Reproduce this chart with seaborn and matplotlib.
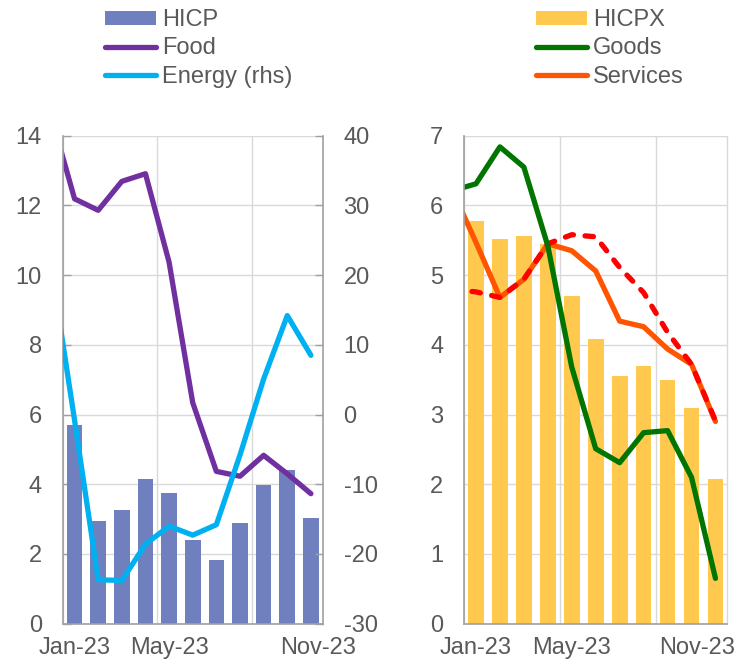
import numpy as np
import pandas as pd
import matplotlib
matplotlib.use("Agg")
import matplotlib.pyplot as plt
import seaborn as sns
from matplotlib.patches import Patch
from matplotlib.lines import Line2D

# Monthly observations (bars: Jan-Nov 2023, lines also carry Dec-2022)
months = ["Jan-23", "Feb-23", "Mar-23", "Apr-23", "May-23", "Jun-23",
          "Jul-23", "Aug-23", "Sep-23", "Oct-23", "Nov-23"]
line_months = ["Dec-22"] + months

hicp = [5.69, 2.96, 3.27, 4.16, 3.74, 2.40, 1.82, 2.90, 3.97, 4.40, 3.02]
food = [14.6, 12.19, 11.86, 12.69, 12.91, 10.37, 6.34, 4.37, 4.23, 4.83, 4.30, 3.73]
energy = [21.5, -0.8, -23.7, -23.8, -18.6, -16.0, -17.3, -15.8, -5.8, 5.1, 14.2, 8.5]

hicpx = [5.77, 5.52, 5.56, 5.44, 4.70, 4.09, 3.55, 3.69, 3.50, 3.10, 2.07]
goods = [6.21, 6.31, 6.84, 6.55, 5.42, 3.68, 2.51, 2.31, 2.74, 2.77, 2.10, 0.65]
services = [6.23, 5.47, 4.68, 4.94, 5.45, 5.35, 5.06, 4.34, 4.26, 3.94, 3.72, 2.90]
services_alt = [4.79, 4.76, 4.68, 4.94, 5.45, 5.58, 5.55, 5.11, 4.75, 4.18, 3.72, 2.91]

left_ticks = [0, 2, 4, 6, 8, 10, 12, 14]
rhs_ticks = [-30, -20, -10, 0, 10, 20, 30, 40]
right_ticks = [0, 1, 2, 3, 4, 5, 6, 7]
date_labels = ["Jan-23", "May-23", "Nov-23"]

C_HICP = "#7080BF"
C_FOOD = "#7030A0"
C_ENERGY = "#00B0F0"
C_HICPX = "#FFC94F"
C_GOODS = "#007500"
C_SERV = "#FF5500"
C_SERV_ALT = "#FF0000"
C_TEXT = "#595959"
C_SPINE = "#A0A0A0"
C_GRID = "#D9D9D9"

sns.set_theme(style="white")
plt.rcParams["font.family"] = ["Liberation Sans", "DejaVu Sans"]
plt.rcParams["axes.unicode_minus"] = False
FS = 17
LW = 3.8

line_df = pd.DataFrame({
    "pos": np.arange(-1, len(months)),
    "month": line_months,
    "Food": food,
    "Energy": energy,
    "Goods": goods,
    "Services": services,
    "ServicesAlt": services_alt,
})
bar_df = pd.DataFrame({"month": months, "HICP": hicp, "HICPX": hicpx})

fig = plt.figure(figsize=(7.38, 6.63), dpi=100)
axl = fig.add_axes([0.0850, 0.0593, 0.3523, 0.7360])
axr = fig.add_axes([0.6287, 0.0593, 0.3570, 0.7360])

line_kw = dict(solid_capstyle="round", solid_joinstyle="round", legend=False)


def style_axis(ax, ylim, yticks, label_pos):
    ax.set_axisbelow(True)
    ax.set_xlim(-0.5, len(months) - 0.5)
    ax.set_ylim(*ylim)
    ax.set_yticks(yticks)
    ax.set_xticks([-0.5, 3.5, 7.5])
    ax.set_xticklabels([])
    ax.set_xticks(label_pos, minor=True)
    ax.set_xticklabels(date_labels, minor=True)
    ax.tick_params(axis="x", which="major", direction="out", length=6,
                   width=1, color=C_SPINE)
    ax.tick_params(axis="x", which="minor", length=0, pad=9.5,
                   labelsize=FS, labelcolor=C_TEXT)
    ax.tick_params(axis="y", direction="in", length=6, width=1,
                   color=C_SPINE, pad=15, labelsize=FS, labelcolor=C_TEXT)
    ax.grid(True, axis="y", color=C_GRID, lw=1)
    ax.grid(True, axis="x", which="major", color=C_GRID, lw=1)
    ax.set_xlabel("")
    ax.set_ylabel("")
    for side in ("left", "bottom"):
        ax.spines[side].set_color(C_SPINE)
        ax.spines[side].set_linewidth(1.2)
    ax.spines["top"].set_visible(False)


# ---- left panel: HICP bars, food line, energy on the right-hand scale
sns.barplot(data=bar_df, x="month", y="HICP", ax=axl, color=C_HICP,
            saturation=1, width=0.66, linewidth=0)
sns.lineplot(data=line_df, x="pos", y="Food", ax=axl, color=C_FOOD,
             lw=LW, **line_kw)
style_axis(axl, (0, 14), left_ticks, [0, 4, 10.32])
axl.spines["right"].set_visible(False)

axe = axl.twinx()
sns.lineplot(data=line_df, x="pos", y="Energy", ax=axe, color=C_ENERGY,
             lw=LW, **line_kw)
axe.set_ylim(-30, 40)
axe.set_yticks(rhs_ticks)
axe.set_xlim(-0.5, len(months) - 0.5)
axe.set_ylabel("")
axe.tick_params(axis="y", direction="in", length=6, width=1, color=C_SPINE,
                pad=15, labelsize=FS, labelcolor=C_TEXT)
for side in ("top", "left", "bottom"):
    axe.spines[side].set_visible(False)
axe.spines["right"].set_color(C_SPINE)
axe.spines["right"].set_linewidth(1.2)
axe.grid(False)

# ---- right panel: HICPX bars, goods and services lines
sns.barplot(data=bar_df, x="month", y="HICPX", ax=axr, color=C_HICPX,
            saturation=1, width=0.655, linewidth=0)
sns.lineplot(data=line_df, x="pos", y="Services", ax=axr, color=C_SERV,
             lw=LW, **line_kw)
sns.lineplot(data=line_df, x="pos", y="ServicesAlt", ax=axr, color=C_SERV_ALT,
             lw=LW, dashes=False, legend=False)
axr.lines[-1].set_linestyle((0, (1.6, 2.2)))
axr.lines[-1].set_dash_capstyle("round")
sns.lineplot(data=line_df, x="pos", y="Goods", ax=axr, color=C_GOODS,
             lw=LW, **line_kw)
style_axis(axr, (0, 7), right_ticks, [0, 4, 9.23])
axr.spines["right"].set_color(C_GRID)
axr.spines["right"].set_linewidth(1)

# ---- legends
leg_kw = dict(loc="upper left", frameon=False, fontsize=FS, handlelength=2.16,
              handletextpad=0.25, labelspacing=0.26, borderpad=0,
              borderaxespad=0, handleheight=0.5, labelcolor=C_TEXT)
fig.legend([Patch(facecolor=C_HICP, edgecolor="none"),
            Line2D([], [], color=C_FOOD, lw=LW, solid_capstyle="round"),
            Line2D([], [], color=C_ENERGY, lw=LW, solid_capstyle="round")],
           ["HICP", "Food", "Energy (rhs)"],
           bbox_to_anchor=(0.1423, 0.986), **leg_kw)
fig.legend([Patch(facecolor=C_HICPX, edgecolor="none"),
            Line2D([], [], color=C_GOODS, lw=LW, solid_capstyle="round"),
            Line2D([], [], color=C_SERV, lw=LW, solid_capstyle="round")],
           ["HICPX", "Goods", "Services"],
           bbox_to_anchor=(0.7263, 0.986), **leg_kw)

fig.savefig("out.png", dpi=100)
